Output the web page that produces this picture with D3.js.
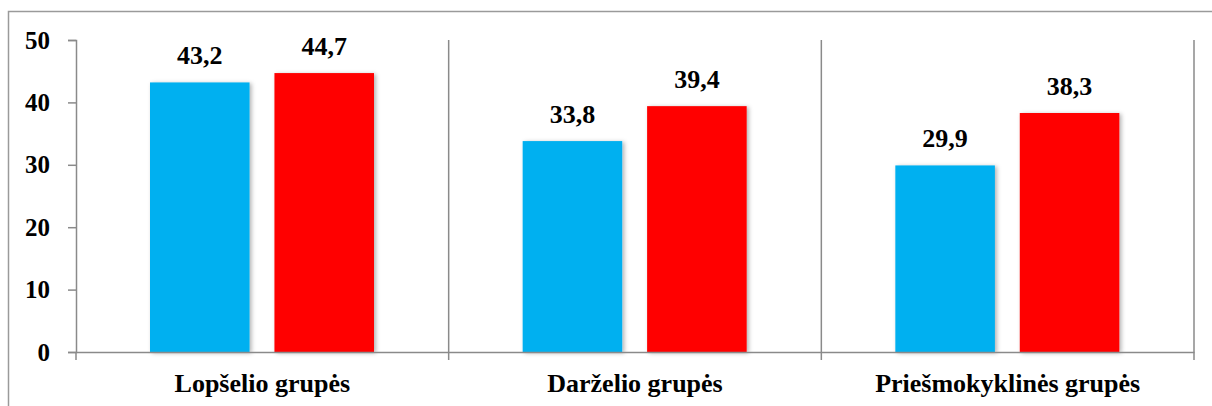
<!DOCTYPE html>
<html>
<head>
<meta charset="utf-8">
<script src="https://cdn.jsdelivr.net/npm/d3@7/dist/d3.min.js"></script>
<style>
  html, body { margin: 0; padding: 0; background: #fff; }
  svg { display: block; }
</style>
</head>
<body>
<svg id="chart" width="1212" height="406"></svg>
<script>
const categories = ["Lopšelio grupės", "Darželio grupės", "Priešmokyklinės grupės"];
const seriesNames = ["Serija 1", "Serija 2"];
const seriesBlue = [43.2, 33.8, 29.9];
const seriesRed = [44.7, 39.4, 38.3];
const yTicks = [0, 10, 20, 30, 40, 50];
const colors = ["#00B0F0", "#FF0000"];

(function () {
const svg = d3.select("#chart");
const mLeft = 76, mRight = 1194, mTop = 40, mBottom = 352;
const axisColor = "#8a8a8a";
const FONT = "Liberation Serif";

svg.append("rect")
  .attr("x", 8.5).attr("y", 11.5)
  .attr("width", 1220).attr("height", 420)
  .attr("fill", "none").attr("stroke", "#9a9a9a").attr("stroke-width", 1.5);

const defs = svg.append("defs");
const f = defs.append("filter").attr("id", "sh").attr("x", "-10%").attr("y", "-10%").attr("width", "130%").attr("height", "130%");
f.append("feDropShadow").attr("dx", 2).attr("dy", 1).attr("stdDeviation", 2)
  .attr("flood-color", "#000").attr("flood-opacity", 0.3);

const y = d3.scaleLinear().domain([0, 50]).range([mBottom, mTop]);
const x0 = d3.scaleBand().domain(categories).range([mLeft, mRight]).padding(0);
const x1 = d3.scaleBand().domain(seriesNames).range([74, 298]).paddingInner(0.2).paddingOuter(0);

const bounds = categories.map(c => x0(c) + x0.bandwidth());
svg.selectAll("line.sep").data(bounds).enter().append("line")
  .attr("x1", d => d).attr("x2", d => d)
  .attr("y1", mTop).attr("y2", mBottom + 8)
  .attr("stroke", axisColor).attr("stroke-width", 1.5);

const yAxis = d3.axisLeft(y).tickValues(yTicks).tickSize(8).tickPadding(18).tickFormat(d3.format("d"));
const gy = svg.append("g").attr("transform", `translate(${mLeft},0)`).call(yAxis);
gy.select(".domain").attr("stroke", axisColor).attr("stroke-width", 1.5);
gy.selectAll(".tick line").attr("stroke", axisColor).attr("stroke-width", 1.5);
gy.selectAll(".tick text").style("font-family", FONT).style("font-weight", "bold")
  .style("font-size", "25px").attr("fill", "#000");

const data = categories.map((c, i) => ({ cat: c, vals: [seriesBlue[i], seriesRed[i]] }));
const groups = svg.selectAll("g.grp").data(data).enter().append("g")
  .attr("transform", d => `translate(${x0(d.cat)},0)`);
groups.selectAll("rect").data(d => d.vals.map((v, j) => ({ v, s: seriesNames[j], j })))
  .enter().append("rect")
  .attr("x", d => x1(d.s)).attr("width", x1.bandwidth())
  .attr("y", d => y(d.v)).attr("height", d => y(0) - y(d.v))
  .attr("fill", d => colors[d.j]).attr("filter", "url(#sh)");
groups.selectAll("text.val").data(d => d.vals.map((v, j) => ({ v, s: seriesNames[j] })))
  .enter().append("text")
  .attr("class", "val")
  .attr("x", d => x1(d.s) + x1.bandwidth() / 2)
  .attr("y", d => y(d.v) - 18)
  .attr("text-anchor", "middle")
  .style("font-family", FONT).style("font-weight", "bold").style("font-size", "26px")
  .attr("fill", "#000")
  .text(d => d3.format(".1f")(d.v).replace(".", ","));

const xAxis = d3.axisBottom(x0).tickSize(0).tickPadding(0).tickFormat(d => d);
const gx = svg.append("g").attr("transform", `translate(0,${mBottom})`).call(xAxis);
gx.select(".domain").attr("stroke", axisColor).attr("stroke-width", 1.5);
gx.selectAll(".tick text").attr("y", 40).attr("dy", 0)
  .style("font-family", FONT).style("font-weight", "bold").style("font-size", "26px").attr("fill", "#000");
svg.append("line").attr("x1", mLeft).attr("x2", mLeft).attr("y1", mBottom).attr("y2", mBottom + 8)
  .attr("stroke", axisColor).attr("stroke-width", 1.5);
})();
</script>
</body>
</html>
